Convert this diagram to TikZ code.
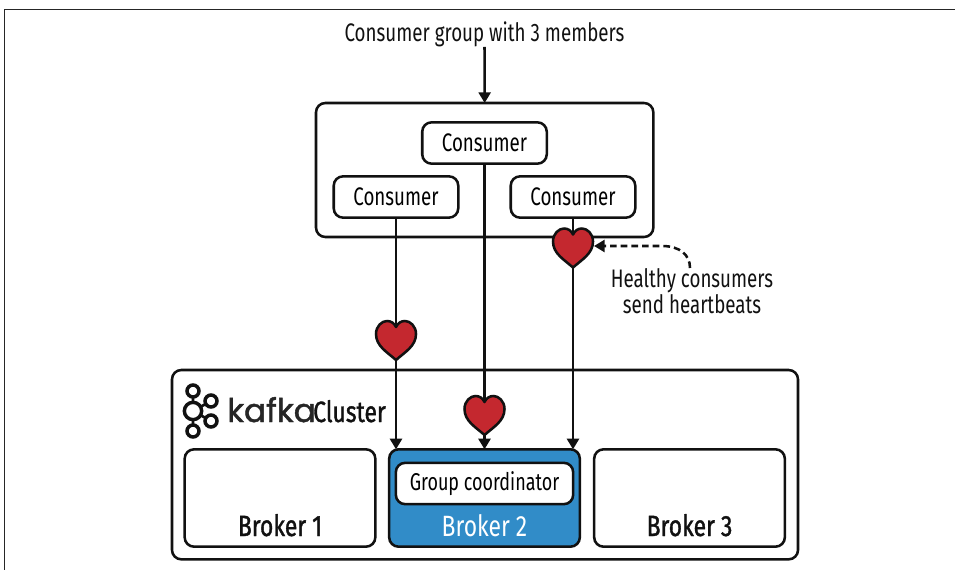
\documentclass[tikz,border=0pt]{standalone}
\usepackage{fontspec}
\setmainfont[FakeStretch=0.74]{Fira Sans}
\newfontfamily\brkfont[FakeStretch=0.78,FakeBold=1.2]{Fira Sans}
\newfontfamily\brkwfont[FakeStretch=0.78]{Fira Sans}
\newfontfamily\logofont[FakeBold=1.4]{Poppins}
\usetikzlibrary{arrows.meta}
\definecolor{hred}{HTML}{C4282F}
\definecolor{bblue}{HTML}{318CC8}
\definecolor{ink}{HTML}{111111}
\tikzset{
  x=0.75pt,y=-0.75pt,
  boxb/.style={draw=ink,line width=1.9pt,rounded corners=7pt,fill=white,inner sep=0pt,outer sep=0pt},
  cons/.style={boxb,minimum width=93.4pt,minimum height=31pt,font=\fontsize{19}{20}\selectfont},
  brk/.style={boxb,minimum width=143pt,minimum height=73pt},
  lab/.style={font=\fontsize{19}{20}\selectfont,text=ink,align=center,inner sep=0pt},
  blab/.style={font=\brkfont\fontsize{22}{24}\selectfont,inner sep=0pt,text=ink},
  conn/.style={draw=ink,line width=1.9pt,-{Triangle[length=8pt,width=9pt]}},
  lin/.style={draw=ink,line width=2pt},
  lcirc/.style={draw=ink,line width=2.6pt,fill=white,circle,minimum size=9pt,inner sep=0pt,outer sep=0pt},
}
\newcommand{\hrt}[2]{%
  \path[draw=ink,line width=1.9pt,fill=hred,line join=round,shift={(#1,#2)}]
    (0,21) .. controls (-9,13) and (-20,7) .. (-20,-5)
    .. controls (-20,-13) and (-14,-18) .. (-9,-18)
    .. controls (-5,-18) and (-2,-16) .. (0,-12)
    .. controls (2,-16) and (5,-18) .. (9,-18)
    .. controls (14,-18) and (20,-13) .. (20,-5)
    .. controls (20,7) and (9,13) .. (0,21) -- cycle;}
\begin{document}
\begin{tikzpicture}
\useasboundingbox (0,0) rectangle (955,570);
\fill[white] (0,0) rectangle (955,570);
\draw[draw=black!85,line width=0.9pt] (955,9.2) -- (4.2,9.2) -- (4.2,570);
% group box
\node[boxb,anchor=north west,minimum width=253pt,minimum height=100.5pt] (grp) at (316,103) {};
\node[cons] (c0) at (484.5,143) {Consumer};
\node[cons] (c1) at (396,197) {Consumer};
\node[cons] (c2) at (573,197) {Consumer};
\node[lab] (title) at (484.5,34.5) {Consumer group with 3 members};
% cluster
\node[boxb,anchor=north west,minimum width=469.5pt,minimum height=142pt] (clu) at (172,370) {};
\node[brk] (b1) at (280,498) {};
\node[brk,fill=bblue] (b2) at (484.5,498) {};
\node[brk] (b3) at (689.5,498) {};
\node[blab,anchor=base] (bl1) at (280,536) {Broker 1};
\node[blab,anchor=base,text=white,font=\brkwfont\fontsize{22}{24}\selectfont] (bl2) at (484.5,536) {Broker 2};
\node[blab,anchor=base] (bl3) at (689.5,536) {Broker 3};
\node[boxb,minimum width=133pt,minimum height=31pt,font=\fontsize{18.2}{20}\selectfont] (gc) at (484.5,483.5) {Group coordinator};
% connectors
\coordinate (tstart) at (484.5,47);
\draw[conn] (tstart) -- (grp.north);
\draw[conn] (c1.south) -- (c1.south |- b2.north);
\draw[conn] (c0.south) -- (c0.south |- b2.north);
\draw[conn] (c2.south) -- (c2.south |- b2.north);
\hrt{573}{246.5}
\hrt{396}{339}
\hrt{484.5}{414}
% note
\node[lab] (note) at (692,291) {Healthy consumers\\[0pt]send heartbeats};
\coordinate (hb) at (594,246);
\draw[draw=ink,line width=1.9pt,dash pattern=on 5pt off 3pt,-{Triangle[length=8pt,width=9pt]}]
  (690,268) .. controls (690,255) and (680,246) .. (662,246) -- (hb);
% logo
\draw[lin] (193,393) -- (193,430) (193,411) -- (211,401) (193,411) -- (211,421);
\node[lcirc,minimum size=13pt] (l0) at (193,411) {};
\node[lcirc] (l1) at (193,391) {};
\node[lcirc] (l2) at (193,431) {};
\node[lcirc] (l3) at (211,401) {};
\node[lcirc] (l4) at (211,421) {};
\node[font=\logofont\fontsize{24.5}{26}\selectfont,text=black!85,anchor=base west,inner sep=0pt] (kaf) at (227,422) {kafka};
\node[blab,anchor=base west] (clt) at (313,422) {Cluster};
\end{tikzpicture}
\end{document}
